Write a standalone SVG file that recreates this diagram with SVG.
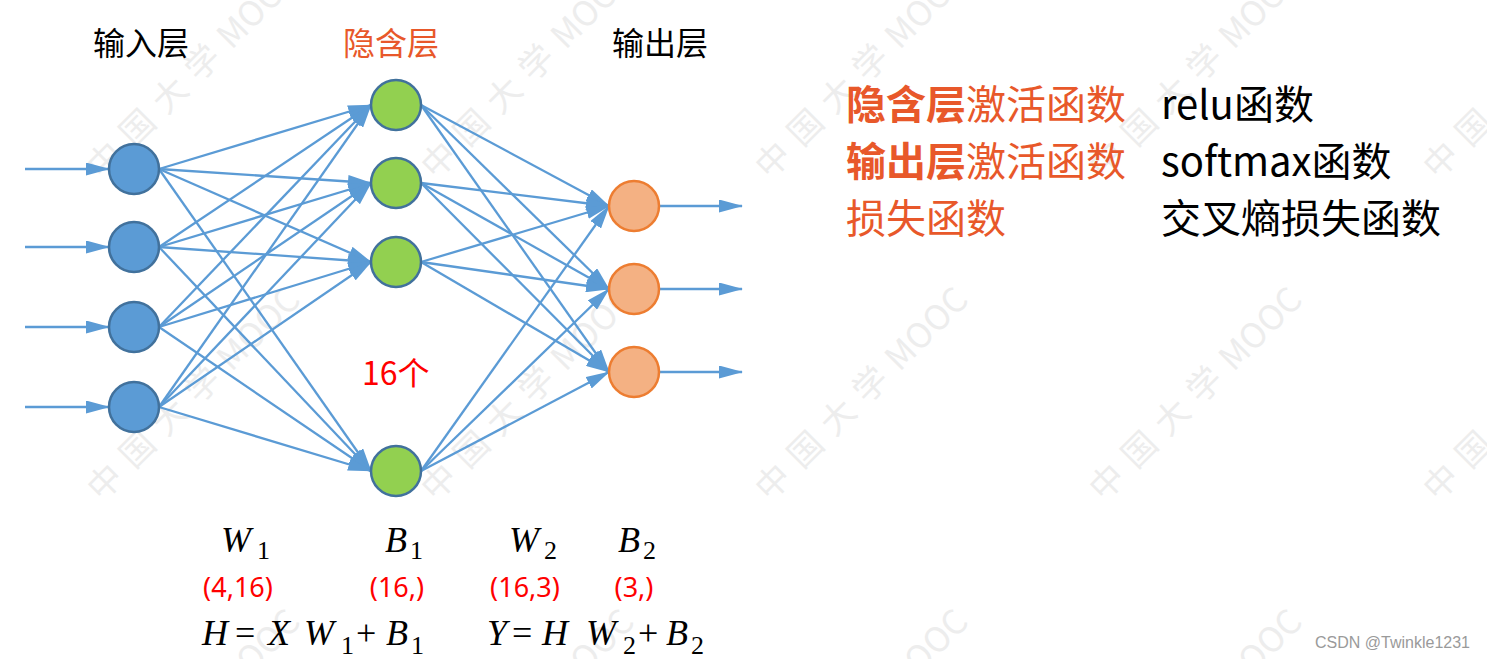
<svg xmlns="http://www.w3.org/2000/svg" width="1487" height="659" viewBox="0 0 1487 659">
<style>
.wm{font-family:"Noto Sans CJK SC","Noto Sans",sans-serif;font-size:34px;fill:#ededed}
.wc{letter-spacing:12px}
.lyr{font-family:"Noto Sans CJK SC",sans-serif;font-size:32px;text-anchor:middle}
.rt{font-family:"Noto Sans CJK SC",sans-serif;font-size:40px}
.red{font-family:"Noto Sans","Noto Sans CJK SC",sans-serif;font-size:27px;fill:#FF0000;text-anchor:middle}
.mi{font-family:"Liberation Serif",serif;font-style:italic;font-size:36px;fill:#000}
.sb{font-family:"Liberation Serif",serif;font-size:26px;fill:#000}
.op{font-family:"Liberation Serif",serif;font-size:36px;fill:#000}
.edge{stroke:#5B9BD5;stroke-width:2.3;fill:none}
.inN{fill:#5B9BD5;stroke:#41719C;stroke-width:2.5}
.hidN{fill:#92D050;stroke:#41719C;stroke-width:2.5}
.outN{fill:#F4B183;stroke:#ED7D31;stroke-width:2.5}
</style>
<defs>
<marker id="ah" viewBox="0 0 24 13" refX="23" refY="6.5" markerWidth="24" markerHeight="13" markerUnits="userSpaceOnUse" orient="auto">
<path d="M0,0 L24,6.5 L0,13 z" fill="#5B9BD5"/>
</marker>
</defs>
<rect width="1487" height="659" fill="#ffffff"/>
<g id="watermark">
<text class="wm" transform="translate(105,160) rotate(-45)" x="-17" y="12"><tspan class="wc">中国大学</tspan>MOOC</text>
<text class="wm" transform="translate(439,160) rotate(-45)" x="-17" y="12"><tspan class="wc">中国大学</tspan>MOOC</text>
<text class="wm" transform="translate(773,160) rotate(-45)" x="-17" y="12"><tspan class="wc">中国大学</tspan>MOOC</text>
<text class="wm" transform="translate(1107,160) rotate(-45)" x="-17" y="12"><tspan class="wc">中国大学</tspan>MOOC</text>
<text class="wm" transform="translate(1441,160) rotate(-45)" x="-17" y="12"><tspan class="wc">中国大学</tspan>MOOC</text>
<text class="wm" transform="translate(105,482) rotate(-45)" x="-17" y="12"><tspan class="wc">中国大学</tspan>MOOC</text>
<text class="wm" transform="translate(439,482) rotate(-45)" x="-17" y="12"><tspan class="wc">中国大学</tspan>MOOC</text>
<text class="wm" transform="translate(773,482) rotate(-45)" x="-17" y="12"><tspan class="wc">中国大学</tspan>MOOC</text>
<text class="wm" transform="translate(1107,482) rotate(-45)" x="-17" y="12"><tspan class="wc">中国大学</tspan>MOOC</text>
<text class="wm" transform="translate(1441,482) rotate(-45)" x="-17" y="12"><tspan class="wc">中国大学</tspan>MOOC</text>
<text class="wm" transform="translate(105,804) rotate(-45)" x="-17" y="12"><tspan class="wc">中国大学</tspan>MOOC</text>
<text class="wm" transform="translate(439,804) rotate(-45)" x="-17" y="12"><tspan class="wc">中国大学</tspan>MOOC</text>
<text class="wm" transform="translate(773,804) rotate(-45)" x="-17" y="12"><tspan class="wc">中国大学</tspan>MOOC</text>
<text class="wm" transform="translate(1107,804) rotate(-45)" x="-17" y="12"><tspan class="wc">中国大学</tspan>MOOC</text>
</g>
<g id="connectors" class="edge" marker-end="url(#ah)">
<line x1="25" y1="169" x2="109" y2="169"/>
<line x1="25" y1="247" x2="109" y2="247"/>
<line x1="25" y1="327" x2="109" y2="327"/>
<line x1="25" y1="407" x2="109" y2="407"/>
<line x1="159" y1="169" x2="371" y2="105"/>
<line x1="159" y1="169" x2="371" y2="183"/>
<line x1="159" y1="169" x2="371" y2="262"/>
<line x1="159" y1="169" x2="371" y2="471"/>
<line x1="159" y1="247" x2="371" y2="105"/>
<line x1="159" y1="247" x2="371" y2="183"/>
<line x1="159" y1="247" x2="371" y2="262"/>
<line x1="159" y1="247" x2="371" y2="471"/>
<line x1="159" y1="327" x2="371" y2="105"/>
<line x1="159" y1="327" x2="371" y2="183"/>
<line x1="159" y1="327" x2="371" y2="262"/>
<line x1="159" y1="327" x2="371" y2="471"/>
<line x1="159" y1="407" x2="371" y2="105"/>
<line x1="159" y1="407" x2="371" y2="183"/>
<line x1="159" y1="407" x2="371" y2="262"/>
<line x1="159" y1="407" x2="371" y2="471"/>
<line x1="421" y1="105" x2="609" y2="206"/>
<line x1="421" y1="105" x2="609" y2="289"/>
<line x1="421" y1="105" x2="609" y2="372"/>
<line x1="421" y1="183" x2="609" y2="206"/>
<line x1="421" y1="183" x2="609" y2="289"/>
<line x1="421" y1="183" x2="609" y2="372"/>
<line x1="421" y1="262" x2="609" y2="206"/>
<line x1="421" y1="262" x2="609" y2="289"/>
<line x1="421" y1="262" x2="609" y2="372"/>
<line x1="421" y1="471" x2="609" y2="206"/>
<line x1="421" y1="471" x2="609" y2="289"/>
<line x1="421" y1="471" x2="609" y2="372"/>
<line x1="659" y1="206" x2="742" y2="206"/>
<line x1="659" y1="289" x2="742" y2="289"/>
<line x1="659" y1="372" x2="742" y2="372"/>
</g>
<g id="in1"><circle class="inN" cx="134" cy="169" r="25"/></g>
<g id="in2"><circle class="inN" cx="134" cy="247" r="25"/></g>
<g id="in3"><circle class="inN" cx="134" cy="327" r="25"/></g>
<g id="in4"><circle class="inN" cx="134" cy="407" r="25"/></g>
<g id="h1"><circle class="hidN" cx="396" cy="105" r="25"/></g>
<g id="h2"><circle class="hidN" cx="396" cy="183" r="25"/></g>
<g id="h3"><circle class="hidN" cx="396" cy="262" r="25"/></g>
<g id="h16"><circle class="hidN" cx="396" cy="471" r="25"/></g>
<g id="o1"><circle class="outN" cx="634" cy="206" r="25"/></g>
<g id="o2"><circle class="outN" cx="634" cy="289" r="25"/></g>
<g id="o3"><circle class="outN" cx="634" cy="372" r="25"/></g>
<g id="layer-labels">
<text class="lyr" x="141" y="55" fill="#000">输入层</text>
<text class="lyr" x="391" y="55" fill="#E8582A">隐含层</text>
<text class="lyr" x="660" y="55" fill="#000">输出层</text>
<text x="362" y="385" font-family="Noto Sans CJK SC, sans-serif" font-size="32" fill="#FF0000">16个</text>
</g>
<g id="legend">
<text class="rt" x="846" y="119" fill="#E8582A"><tspan font-weight="bold">隐含层</tspan>激活函数</text>
<text class="rt" x="846" y="176" fill="#E8582A"><tspan font-weight="bold">输出层</tspan>激活函数</text>
<text class="rt" x="846" y="233" fill="#E8582A">损失函数</text>
<text class="rt" x="1161" y="119" fill="#000">relu函数</text>
<text class="rt" x="1161" y="176" fill="#000">softmax函数</text>
<text class="rt" x="1161" y="233" fill="#000">交叉熵损失函数</text>
</g>
<g id="params">
<text class="mi" x="221" y="552">W</text><text class="sb" x="257" y="559">1</text>
<text class="mi" x="385" y="552">B</text><text class="sb" x="410" y="559">1</text>
<text class="mi" x="509" y="552">W</text><text class="sb" x="544" y="559">2</text>
<text class="mi" x="618" y="552">B</text><text class="sb" x="643" y="559">2</text>
<text class="red" x="238" y="597">(4,16)</text>
<text class="red" x="397" y="597">(16,)</text>
<text class="red" x="525" y="597">(16,3)</text>
<text class="red" x="634" y="597">(3,)</text>
</g>
<g id="formulas">
<text class="mi" x="202" y="645">H</text>
<text class="op" x="235" y="645">=</text>
<text class="mi" x="268" y="645">X</text>
<text class="mi" x="304" y="645">W</text><text class="sb" x="341" y="654">1</text>
<text class="op" x="356" y="645">+</text>
<text class="mi" x="386" y="645">B</text><text class="sb" x="411" y="654">1</text>
<text class="mi" x="487" y="645">Y</text>
<text class="op" x="512" y="645">=</text>
<text class="mi" x="542" y="645">H</text>
<text class="mi" x="586" y="645">W</text><text class="sb" x="623" y="654">2</text>
<text class="op" x="638" y="645">+</text>
<text class="mi" x="666" y="645">B</text><text class="sb" x="691" y="654">2</text>
</g>
<text x="1315" y="648" font-family="Liberation Sans, sans-serif" font-size="16" fill="#9a9a9a">CSDN @Twinkle1231</text>
</svg>
